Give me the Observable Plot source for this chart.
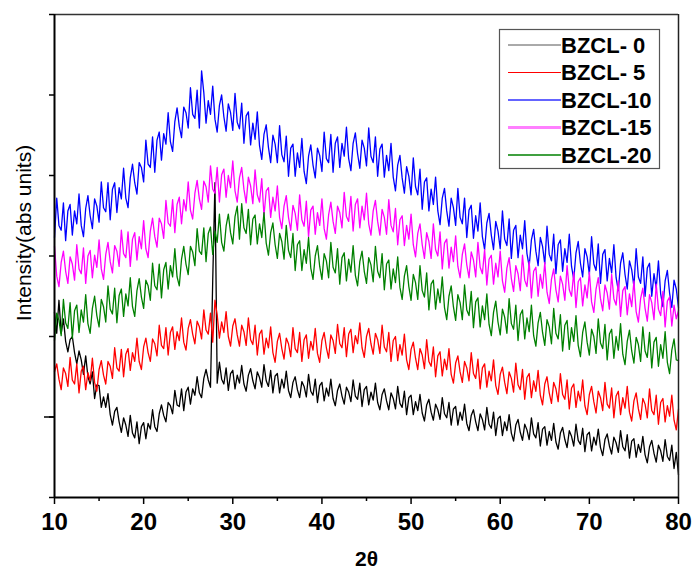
<!DOCTYPE html>
<html><head><meta charset="utf-8">
<script src="https://cdn.jsdelivr.net/npm/d3@7"></script>
<script src="https://cdn.jsdelivr.net/npm/@observablehq/plot@0.6"></script>
<style>body{margin:0;background:#fff} #chart{width:692px;height:573px}</style>
</head><body><div id="chart"></div>
<script>
const seriesNames = ["BZCL- 0","BZCL- 5","BZCL-10","BZCL-15","BZCL-20"];
const seriesColors = ["#000000","#ff0000","#0000ff","#ff00ff","#008000"];
const legendWidths = [1, 1, 1.5, 3, 1.5];
const legendColors = ["#555555","#ff0000","#3030ff","#ff80ff","#008000"];
const twoThetaStart = 10, twoThetaStep = 0.25;

const bzcl0 = [
230,204,245,204, 222,194,181,196, 200,180,166,182, 171,153,176,150, 141,156,123,140,
139,112,125,112, 129,103,90,107, 112,94,81,99, 90,76,102,80, 74,94,67,88,
93,73,92,85, 109,88,82,104, 115,102,94,118, 114,104,133,115, 113,135,108,131,
137,116,135,127, 150,130,124,148, 159,146,137,270, 391,142,168,147, 141,161,133,154,
158,135,152,142, 164,141,132,152, 160,145,135,156, 149,137,165,145, 138,158,130,151,
154,130,147,136, 157,133,124,143, 150,134,124,144, 138,125,153,132, 127,147,118,139,
143,120,136,126, 147,123,114,133, 141,126,116,137, 131,119,146,126, 122,142,113,134,
138,115,131,121, 142,118,109,128, 135,120,109,130, 123,110,138,117, 112,132,103,124,
127,103,119,108, 128,105,95,115, 122,106,96,116, 109,97,124,104, 99,118,90,110,
113,90,106,96, 116,92,83,102, 109,94,83,104, 97,84,112,91, 86,106,77,98,
101,77,94,83, 103,80,70,90, 97,81,71,91, 84,72,99,79, 74,93,64,85,
88,65,82,71, 92,69,60,80, 87,72,62,83, 76,64,91,71, 66,86,57,78,
81,58,75,65, 85,62,52,72, 79,64,54,75, 68,56,83,63, 58,78,49,70,
73,50,66,56, 76,53,43,63, 71,55,44,65, 58,45,72,51, 46,65,36,56,
28];

const bzcl5 = [
156,166,147,134, 161,154,138,174, 146,141,166,130, 157,163,134,155, 145,173,143,132,
159,170,152,141, 169,163,148,186, 161,157,184,150, 178,185,158,180, 169,198,169,159,
187,198,180,169, 197,191,176,214, 189,185,211,177, 205,212,184,206, 195,223,193,183,
210,221,203,191, 219,212,197,233, 208,203,229,193, 245,227,198,218, 205,231,200,188,
213,222,202,188, 214,206,189,223, 196,190,214,177, 203,208,178,198, 186,212,180,168,
194,204,185,172, 198,191,175,211, 185,180,205,169, 196,202,173,194, 183,210,179,168,
195,205,186,173, 202,195,179,215, 191,186,211,175, 203,209,180,201, 191,217,186,174,
200,210,191,178, 204,196,179,214, 187,181,205,169, 195,200,170,190, 177,203,171,159,
184,193,173,159, 185,177,160,196, 169,163,187,150, 176,181,151,172, 159,185,153,142,
167,176,156,143, 169,161,145,180, 154,148,172,135, 161,166,137,157, 145,171,139,128,
153,162,143,129, 156,148,131,167, 140,134,159,122, 149,154,124,145, 132,158,127,115,
141,150,130,117, 143,135,119,154, 128,122,146,110, 136,141,112,132, 120,146,114,103,
128,138,119,105, 132,124,108,143, 116,111,136,99, 126,132,103,124, 111,138,106,95,
120,130,110,97, 123,116,99,135, 108,103,127,91, 118,123,94,114, 101,127,96,84,
110];

const bzcl10 = [
323,372,338,332, 366,319,356,364, 326,356,340,377, 338,324,359,375, 350,334,371,362,
342,392,360,355, 391,345,383,391, 354,385,371,409, 372,360,397,414, 391,377,416,410,
392,444,414,410, 448,404,444,454, 419,452,439,478, 442,430,467,484, 461,447,485,478,
459,509,476,471, 506,459,530,503, 465,493,476,511, 470,454,487,500, 473,455,489,478,
456,502,466,458, 490,440,474,479, 438,465,445,479, 437,420,451,463, 435,416,450,439,
416,462,426,417, 449,399,434,439, 399,428,410,446, 405,390,424,438, 413,397,434,425,
405,454,421,416, 451,404,440,448, 410,440,424,460, 421,406,440,453, 427,409,444,434,
412,459,424,416, 448,399,433,439, 398,425,406,440, 398,381,413,425, 397,378,411,399,
376,422,386,376, 408,358,392,397, 356,383,364,398, 356,339,372,384, 356,337,372,360,
338,384,348,340, 372,323,357,363, 322,350,331,366, 324,308,341,353, 326,308,343,331,
309,356,321,313, 346,297,332,338, 298,326,309,344, 303,287,320,333, 306,288,323,312,
290,337,302,294, 327,278,314,320, 281,309,292,327, 287,271,304,318, 291,274,309,299,
277,324,290,282, 315,266,302,308, 269,297,279,314, 273,257,291,304, 277,259,294,283,
262,309,274,266, 299,250,285,291, 250,278,260,294, 253,237,269,282, 254,236,270,259,
236];

const bzcl15 = [
312,275,262,292, 306,281,266,299, 290,270,314,284, 278,310,266,300, 307,273,301,286,
320,284,271,302, 317,293,279,313, 306,287,332,303, 298,330,287,321, 329,295,324,309,
344,309,298,331, 347,324,311,347, 340,322,369,341, 337,370,329,364, 373,340,370,356,
392,357,346,378, 394,371,358,393, 386,367,412,383, 378,410,367,401, 408,373,400,385,
418,381,367,397, 410,383,366,398, 387,365,407,376, 367,396,350,381, 385,348,373,356,
387,348,334,362, 375,348,332,363, 353,332,376,345, 337,368,324,357, 362,327,354,338,
371,334,321,351, 367,343,328,362, 354,335,379,349, 343,374,331,364, 371,335,362,345,
378,340,326,356, 369,343,326,358, 348,327,370,338, 330,359,314,345, 350,313,338,321,
352,314,299,328, 340,314,297,329, 318,297,340,308, 300,330,284,316, 321,285,311,293,
325,287,273,302, 315,289,273,305, 295,274,317,286, 278,308,264,296, 301,265,291,274,
306,269,255,285, 298,272,256,288, 278,257,301,270, 262,293,248,281, 286,250,277,260,
292,255,241,271, 284,258,243,275, 265,245,288,258, 250,280,236,268, 273,238,264,248,
280,243,230,259, 273,247,232,264, 254,234,277,247, 239,269,225,257, 262,227,253,237,
269,231,218,247, 260,235,219,252, 242,221,265,234, 226,256,212,244, 249,213,239,222,
232];

const bzcl20 = [
195,229,220,201, 246,217,210,242, 198,232,239,205, 233,218,252,216, 204,235,250,226,
212,246,237,218, 263,234,228,260, 217,251,259,225, 253,238,273,237, 225,257,272,249,
235,270,263,245, 291,263,258,290, 248,283,292,259, 288,274,309,274, 263,296,312,290,
277,312,305,288, 334,306,302,335, 293,328,336,302, 331,317,352,317, 306,337,352,329,
315,349,362,321, 365,335,328,358, 314,346,351,315, 340,323,354,316, 301,329,341,314,
297,328,318,296, 338,307,298,328, 282,314,319,282, 308,291,323,285, 271,300,313,287,
271,303,294,273, 317,286,279,309, 265,298,304,269, 296,280,313,276, 263,293,306,281,
266,298,289,268, 312,281,273,303, 258,290,295,259, 284,267,299,261, 246,275,288,262,
245,277,267,246, 288,257,249,279, 233,265,270,234, 259,242,274,236, 221,250,263,237,
220,252,242,221, 264,233,226,256, 211,243,248,212, 238,221,253,215, 201,230,244,218,
202,234,224,204, 247,216,209,239, 195,227,233,197, 223,206,239,201, 188,217,230,205,
189,221,212,191, 235,204,197,227, 182,214,220,184, 211,194,226,189, 175,205,218,193,
177,209,200,179, 222,192,185,215, 171,203,209,173, 200,183,216,178, 165,194,208,182,
167,199,190,169, 212,182,174,205, 161,193,199,163, 190,173,206,168, 154,183,197,171,
170];

const xTicks = [10,20,30,40,50,60,70,80];
const xMinorTicks = [15,25,35,45,55,65,75];
const yTicks = [0,100,200,300,400,500,600];
const yLongTicks = [100];

const allSeries = [bzcl0, bzcl5, bzcl10, bzcl15, bzcl20];
const rows = allSeries.map((arr, i) => arr.map((v, j) => ({series: seriesNames[i], x: twoThetaStart + j * twoThetaStep, y: v})));

const font = "'Liberation Sans', Arial, sans-serif";
const plot = Plot.plot({
  width: 692, height: 573,
  marginLeft: 54, marginRight: 14, marginTop: 14, marginBottom: 76,
  x: {domain: [10, 80]},
  y: {domain: [0, 600]},
  style: {fontFamily: font, background: "white", color: "black"},
  marks: [
    ...rows.map((r, i) => Plot.line(r, {x: "x", y: "y", stroke: seriesColors[i], strokeWidth: 1.3})),
    Plot.axisX(xTicks, {tickSize: 7, tickPadding: 8, fontSize: 24, fontWeight: "bold", label: null, strokeWidth: 1.5}),
    Plot.axisX(xMinorTicks, {tickSize: 4, tickFormat: () => "", label: null, strokeWidth: 1.5}),
    Plot.axisY(yTicks, {tickSize: 5, tickFormat: () => "", label: null, strokeWidth: 1.5}),
    Plot.axisY(yLongTicks, {tickSize: 10, tickFormat: () => "", label: null, strokeWidth: 1.5}),
    Plot.ruleX([80], {stroke: "#222", strokeWidth: 1.5}),
    Plot.ruleY([600], {stroke: "#333", strokeWidth: 1.5}),
    Plot.ruleX([10], {strokeWidth: 2}),
    Plot.ruleY([0], {strokeWidth: 2}),
    Plot.text(["2θ"], {text: d => d, frameAnchor: "bottom", lineAnchor: "middle", dy: 62, fontSize: 21, fontWeight: "bold"}),
    Plot.text(["Intensity(abs units)"], {text: d => d, frameAnchor: "left", textAnchor: "middle", lineAnchor: "middle", dx: -30, dy: -23, rotate: -90, fontSize: 21})
  ]
});
document.getElementById("chart").appendChild(plot);

const svg = d3.select(plot);
svg.selectAll('g[aria-label="x-axis tick label"]').attr("font-size", 24).attr("font-weight", "bold");

// legend
const lg = svg.append("g").attr("font-family", font).attr("text-anchor", "start");
lg.append("rect").attr("x", 499.5).attr("y", 29.5).attr("width", 160).attr("height", 139)
  .attr("fill", "white").attr("stroke", "#555").attr("stroke-width", 1.2);
seriesNames.forEach((name, i) => {
  const yy = 45 + i * 27.5;
  lg.append("line").attr("x1", 508).attr("x2", 561).attr("y1", yy).attr("y2", yy)
    .attr("stroke", legendColors[i]).attr("stroke-width", legendWidths[i]);
  lg.append("text").attr("x", 561).attr("y", yy).attr("dy", "0.36em")
    .attr("font-size", 22).attr("font-weight", "bold").attr("fill", "black").text(name);
});
</script>
</body></html>
